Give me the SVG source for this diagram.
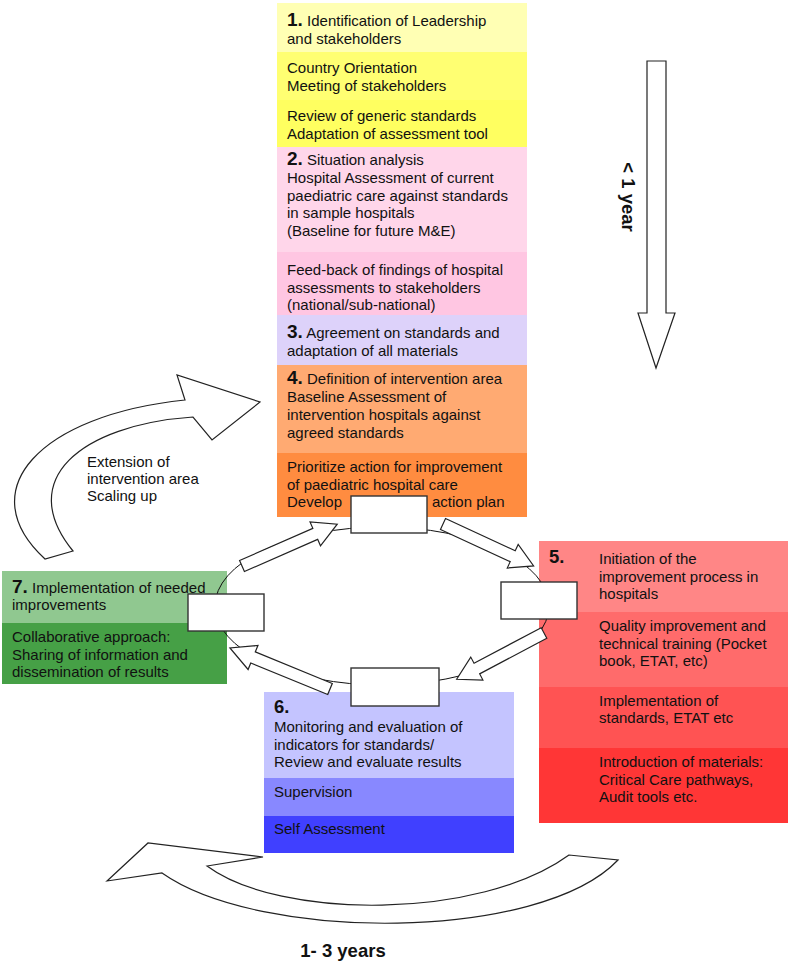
<svg xmlns="http://www.w3.org/2000/svg" width="795" height="968" viewBox="0 0 795 968">
<style>
text{font-family:"Liberation Sans",Arial,sans-serif;font-size:15px;fill:#111}
.num{font-size:19px;font-weight:bold}
.big{font-size:18.5px;font-weight:bold}
.blk{fill:#fff;stroke:#222;stroke-width:1.2}
.wbox{fill:#fff;stroke:#333;stroke-width:1.4}
.ell{fill:none;stroke:#111;stroke-width:1}
</style>
<defs>
<path id="barrow" d="M0,-6 L80,-6 L80,-13 L104,0 L80,13 L80,6 L0,6 Z"/>
</defs>

<g id="step1">
<rect x="277" y="3" width="250" height="49" fill="#FFFFB4"/>
<rect x="277" y="52" width="250" height="48" fill="#FFFF72"/>
<rect x="277" y="100" width="250" height="47" fill="#FFFF60"/>
<text x="287" y="26"><tspan class="num">1.</tspan> Identification of Leadership</text>
<text x="287" y="44">and stakeholders</text>
<text x="287" y="73">Country Orientation</text>
<text x="287" y="91">Meeting of stakeholders</text>
<text x="287" y="121">Review of generic standards</text>
<text x="287" y="139">Adaptation of assessment tool</text>
</g>

<g id="step2">
<rect x="277" y="147" width="250" height="105" fill="#FFD6EA"/>
<rect x="277" y="252" width="250" height="63" fill="#FFC6E2"/>
<text x="287" y="165"><tspan class="num">2.</tspan> Situation analysis</text>
<text x="287" y="183">Hospital Assessment of current</text>
<text x="287" y="201">paediatric care against standards</text>
<text x="287" y="218">in sample hospitals</text>
<text x="287" y="236">(Baseline for future M&amp;E)</text>
<text x="287" y="275">Feed-back of findings of hospital</text>
<text x="287" y="293">assessments to stakeholders</text>
<text x="287" y="310">(national/sub-national)</text>
</g>

<g id="step3">
<rect x="277" y="315" width="250" height="50" fill="#DDD2FA"/>
<text x="287" y="338"><tspan class="num">3.</tspan> Agreement on standards and</text>
<text x="287" y="356">adaptation of all materials</text>
</g>

<g id="step4">
<rect x="277" y="365" width="250" height="88" fill="#FFAA72"/>
<rect x="277" y="453" width="250" height="64" fill="#FF8C40"/>
<text x="287" y="384"><tspan class="num">4.</tspan> Definition of intervention area</text>
<text x="287" y="402">Baseline Assessment of</text>
<text x="287" y="420">intervention hospitals against</text>
<text x="287" y="438">agreed standards</text>
<text x="287" y="472">Prioritize action for improvement</text>
<text x="287" y="490">of paediatric hospital care</text>
<text x="287" y="507">Develop</text>
<text x="432" y="507">action plan</text>
</g>

<g id="step5">
<rect x="539" y="541" width="249" height="71" fill="#FF8686"/>
<rect x="539" y="612" width="249" height="75" fill="#FF6B6B"/>
<rect x="539" y="687" width="249" height="61" fill="#FF5353"/>
<rect x="539" y="748" width="249" height="75" fill="#FF3636"/>
<text x="549" y="563" class="big">5.</text>
<text x="599" y="564">Initiation of the</text>
<text x="599" y="582">improvement process in</text>
<text x="599" y="599">hospitals</text>
<text x="599" y="631">Quality improvement and</text>
<text x="599" y="649">technical training (Pocket</text>
<text x="599" y="666">book, ETAT, etc)</text>
<text x="599" y="706">Implementation of</text>
<text x="599" y="723">standards, ETAT etc</text>
<text x="599" y="767">Introduction of materials:</text>
<text x="599" y="785">Critical Care pathways,</text>
<text x="599" y="802">Audit tools etc.</text>
</g>

<g id="step6">
<rect x="264" y="692" width="250" height="86" fill="#C4C4FF"/>
<rect x="264" y="778" width="250" height="38" fill="#8888FF"/>
<rect x="264" y="816" width="250" height="37" fill="#4040FF"/>
<text x="274" y="713" class="big">6.</text>
<text x="274" y="732">Monitoring and evaluation of</text>
<text x="274" y="750">indicators for standards/</text>
<text x="274" y="767">Review and evaluate results</text>
<text x="274" y="797">Supervision</text>
<text x="274" y="834">Self Assessment</text>
</g>

<g id="step7">
<rect x="2" y="571" width="225" height="52" fill="#90C890"/>
<rect x="2" y="623" width="225" height="61" fill="#46A046"/>
<text x="12" y="593"><tspan class="num">7.</tspan> Implementation of needed</text>
<text x="12" y="610">improvements</text>
<text x="12" y="642">Collaborative approach:</text>
<text x="12" y="660">Sharing of information and</text>
<text x="12" y="677">dissemination of results</text>
</g>

<g id="cycle">
<ellipse class="ell" cx="382" cy="606" rx="167" ry="79"/>
<use href="#barrow" class="blk" transform="translate(242,566) rotate(-23.7)"/>
<use href="#barrow" class="blk" transform="translate(443,524) rotate(24.8) scale(0.96,1)"/>
<use href="#barrow" class="blk" transform="translate(544,633) rotate(152.1) scale(0.95,1)"/>
<use href="#barrow" class="blk" transform="translate(330,689) rotate(-157.7) scale(1.04,1)"/>
<rect class="wbox" x="351" y="496" width="76" height="37"/>
<rect class="wbox" x="501" y="582" width="76" height="37"/>
<rect class="wbox" x="188" y="594" width="76" height="37"/>
<rect class="wbox" x="351" y="668" width="88" height="38"/>
</g>

<g id="time-arrow">
<polygon class="blk" stroke="#444" points="647,61 666,61 666,313 675,313 656,368 638,313 647,313"/>
<text class="big" transform="translate(622,197) rotate(90)" text-anchor="middle">&lt; 1 year</text>
</g>

<g id="scaling-arrow">
<path class="blk" d="M45,559 C-30,490 40,415 185,400 L177,375 L260,402 L212,440 L193,417 C80,425 15,480 73,551 Z"/>
<text x="87" y="467">Extension of</text>
<text x="87" y="484">intervention area</text>
<text x="87" y="501">Scaling up</text>
</g>

<g id="cycle-arrow">
<path class="blk" d="M107,881 L148,843 L263,857 L207,866 C280,920 480,920 569,855 L618,860 C540,942 260,942 162,873 Z"/>
<text class="big" x="343" y="957" text-anchor="middle">1- 3 years</text>
</g>
</svg>
